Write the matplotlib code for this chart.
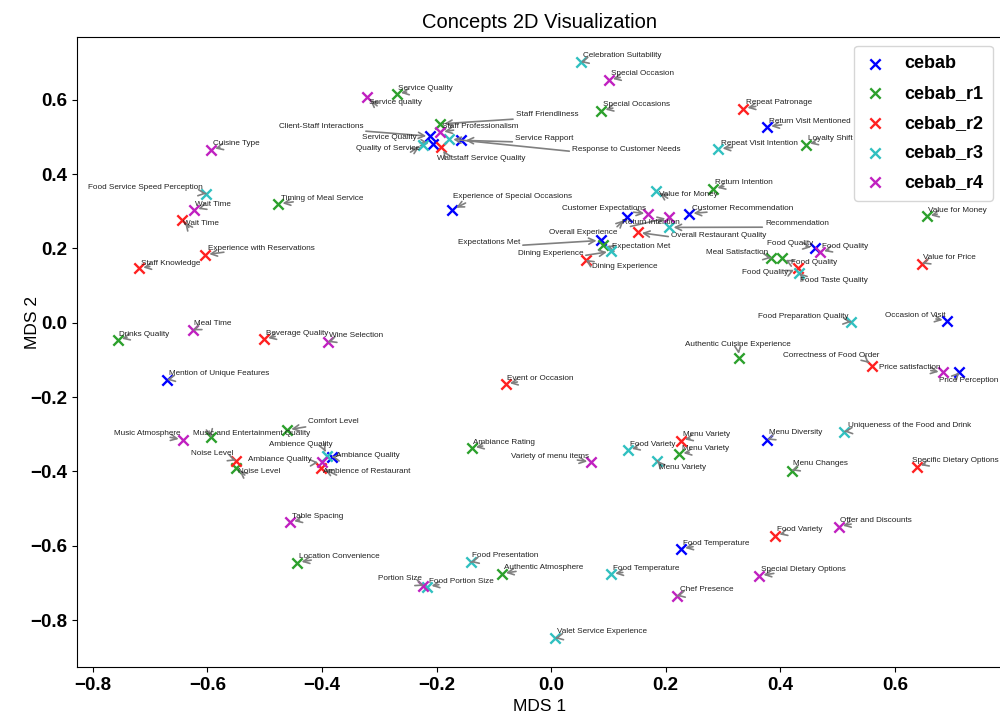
import matplotlib
matplotlib.use("Agg")
import matplotlib.pyplot as plt

# concepts per run: name and MDS coords
cebab_names = ["Client-Staff Interactions", "Service Quality", "Service Rapport",
               "Experience of Special Occasions", "Overall Experience", "Customer Recommendation",
               "Expectations Met", "Return Visit Mentioned", "Food Quality", "Occasion of Visit",
               "Price Perception", "Mention of Unique Features", "Ambiance Quality",
               "Menu Diversity", "Food Temperature"]
cebab_x = [-0.2106, -0.2065, -0.1565, -0.1722, 0.1321, 0.2414, 0.0867, 0.377, 0.4607,
           0.6906, 0.7126, -0.6702, -0.3827, 0.3775, 0.2269]
cebab_y = [0.5015, 0.481, 0.4907, 0.3042, 0.2834, 0.2934, 0.2215, 0.5268, 0.2011,
           0.0054, -0.1338, -0.1534, -0.3599, -0.3149, -0.6083]

r1_names = ["Service Quality", "Staff Friendliness", "Special Occasions", "Timing of Meal Service",
            "Expectation Met", "Return Intention", "Loyalty Shift", "Value for Money",
            "Meal Satisfaction", "Food Quality", "Authentic Cuisine Experience", "Menu Variety",
            "Menu Changes", "Drinks Quality", "Music and Entertainment Quality", "Comfort Level",
            "Noise Level", "Ambiance Rating", "Location Convenience", "Authentic Atmosphere"]
r1_x = [-0.2693, -0.1937, 0.0878, -0.4759, 0.0913, 0.2832, 0.445, 0.6557, 0.3839, 0.4026,
        0.3286, 0.2239, 0.4201, -0.7562, -0.5934, -0.4607, -0.5497, -0.1384, -0.4428, -0.086]
r1_y = [0.6164, 0.5349, 0.5707, 0.3195, 0.21, 0.3599, 0.4791, 0.2861, 0.1742, 0.1742,
        -0.095, -0.3526, -0.3976, -0.0458, -0.3077, -0.288, -0.3911, -0.3373, -0.6452, -0.6748]

r2_names = ["Waitstaff Service Quality", "Repeat Patronage", "Wait Time",
            "Experience with Reservations", "Staff Knowledge", "Overall Restaurant Quality",
            "Dining Experience", "Food Quality", "Value for Price", "Beverage Quality",
            "Event or Occasion", "Correctness of Food Order", "Menu Variety",
            "Specific Dietary Options", "Noise Level", "Ambience of Restaurant", "Food Variety"]
r2_x = [-0.1914, 0.3356, -0.6435, -0.6038, -0.719, 0.1513, 0.0606, 0.4305, 0.648, -0.5009,
        -0.0791, 0.5607, 0.2264, 0.6382, -0.5503, -0.4019, 0.3914]
r2_y = [0.473, 0.576, 0.2773, 0.183, 0.1467, 0.2431, 0.1696, 0.1472, 0.1588, -0.0439,
        -0.165, -0.1157, -0.3168, -0.3868, -0.3707, -0.3895, -0.5725]

r3_names = ["Quality of Service", "Response to Customer Needs", "Celebration Suitability",
            "Repeat Visit Intention", "Food Service Speed Perception", "Value for Money",
            "Recommendation", "Dining Experience", "Food Taste Quality", "Food Preparation Quality",
            "Uniqueness of the Food and Drink", "Food Variety", "Menu Variety", "Ambience Quality",
            "Food Presentation", "Food Portion Size", "Food Temperature", "Valet Service Experience"]
r3_x = [-0.2239, -0.178, 0.0518, 0.292, -0.6021, 0.1832, 0.2065, 0.1047, 0.4333, 0.5236,
        0.5119, 0.1339, 0.1855, -0.3909, -0.1401, -0.2159, 0.1047, 0.007]
r3_y = [0.4791, 0.4945, 0.7007, 0.4676, 0.3472, 0.3553, 0.2565, 0.1919, 0.1338, 0.0019,
        -0.2926, -0.3419, -0.3715, -0.3572, -0.6441, -0.7098, -0.6764, -0.8487]

r4_names = ["Service quality", "Staff Professionalism", "Special Occasion", "Cuisine Type",
            "Wait Time", "Customer Expectations", "Return Intention", "Food Quality",
            "Price satisfaction", "Meal Time", "Wine Selection", "Music Atmosphere",
            "Ambiance Quality", "Variety of menu items", "Table Spacing", "Portion Size",
            "Offer and Discounts", "Special Dietary Options", "Chef Presence"]
r4_x = [-0.3216, -0.1937, 0.1007, -0.5934, -0.6225, 0.1698, 0.2065, 0.4695, 0.6836, -0.6243,
        -0.3887, -0.6428, -0.3991, 0.0703, -0.4555, -0.2229, 0.5021, 0.3635, 0.2194]
r4_y = [0.6065, 0.5122, 0.6533, 0.4657, 0.3023, 0.2926, 0.2834, 0.1892, -0.1338, -0.0207,
        -0.052, -0.3149, -0.375, -0.375, -0.5365, -0.7079, -0.5483, -0.6802, -0.7349]

# where the repel step left each label: (x, y, side) -- side "l" means the text
# starts at x, "r" means it ends at x, "c" centred on x
cebab_lab = [(-0.3281, 0.528, "r"), (-0.2344, 0.497, "r"), (-0.0628, 0.4953, "l"),
             (-0.171, 0.339, "l"), (0.1152, 0.2415, "r"), (0.2455, 0.3069, "l"),
             (-0.0541, 0.2161, "r"), (0.381, 0.5419, "l"), (0.4572, 0.2145, "r"),
             (0.6876, 0.0196, "r"), (0.6777, -0.1553, "l"), (-0.6661, -0.1354, "l"),
             (-0.3757, -0.3572, "l"), (0.3805, -0.2953, "l"), (0.2304, -0.593, "l")]
r1_lab = [(-0.2665, 0.6299, "l"), (-0.0616, 0.5591, "l"), (0.0902, 0.5868, "l"),
          (-0.4717, 0.3346, "l"), (0.107, 0.2038, "l"), (0.2862, 0.376, "l"),
          (0.449, 0.4945, "l"), (0.6585, 0.3015, "l"), (0.3787, 0.1892, "r"),
          (0.4183, 0.1623, "l"), (0.3264, -0.0592, "c"), (0.2286, -0.3392, "l"),
          (0.4223, -0.3795, "l"), (-0.7534, -0.0304, "l"), (-0.6243, -0.2969, "l"),
          (-0.4236, -0.2665, "l"), (-0.5457, -0.4003, "l"), (-0.1356, -0.3222, "l"),
          (-0.4398, -0.6291, "l"), (-0.082, -0.6595, "l")]
r2_lab = [(-0.1995, 0.4406, "l"), (0.3398, 0.5914, "l"), (-0.6417, 0.2657, "l"),
          (-0.5991, 0.1992, "l"), (-0.716, 0.1607, "l"), (0.2094, 0.235, "l"),
          (0.071, 0.15, "l"), (0.4136, 0.1354, "r"), (0.6497, 0.1768, "l"),
          (-0.4979, -0.0277, "l"), (-0.0763, -0.1499, "l"), (0.5724, -0.0888, "r"),
          (0.2298, -0.3015, "l"), (0.6300, -0.3707, "l"), (-0.555, -0.3526, "r"),
          (-0.3974, -0.4003, "l"), (0.3939, -0.5572, "l")]
r3_lab = [(-0.2286, 0.4684, "r"), (0.0366, 0.4657, "l"), (0.0553, 0.7195, "l"),
          (0.2962, 0.481, "l"), (-0.6073, 0.3634, "r"), (0.188, 0.3445, "l"),
          (0.3735, 0.2665, "l"), (0.0558, 0.1857, "r"), (0.4346, 0.1139, "l"),
          (0.5183, 0.017, "r"), (0.5178, -0.2764, "l"), (0.1379, -0.3265, "l"),
          (0.188, -0.3884, "l"), (-0.3805, -0.3265, "r"), (-0.1373, -0.6272, "l"),
          (-0.2129, -0.6953, "l"), (0.1077, -0.6622, "l"), (0.011, -0.831, "l")]
r4_lab = [(-0.3176, 0.593, "l"), (-0.1902, 0.5276, "l"), (0.1042, 0.6694, "l"),
          (-0.5904, 0.481, "l"), (-0.6208, 0.3176, "l"), (0.1658, 0.3069, "r"),
          (0.1234, 0.2684, "l"), (0.4724, 0.2054, "l"), (0.6789, -0.1192, "r"),
          (-0.623, -0.0027, "l"), (-0.3869, -0.0342, "l"), (-0.6475, -0.2988, "r"),
          (-0.4171, -0.3688, "r"), (0.0663, -0.3599, "r"), (-0.4525, -0.5214, "l"),
          (-0.2257, -0.6891, "r"), (0.5049, -0.5322, "l"), (0.3665, -0.6649, "l"),
          (0.2251, -0.7187, "l")]

runs = ["cebab", "cebab_r1", "cebab_r2", "cebab_r3", "cebab_r4"]
colors = ["#0000ff", "#2ca02c", "#ff2020", "#30c0c0", "#c020c0"]

plt.rcParams["font.family"] = ["Liberation Sans", "DejaVu Sans"]
ALIGN = {"l": "left", "r": "right", "c": "center"}
# arrow leaves the text from the lower corner that faces the point
RELPOS = {"l": (0.15, 0.0), "r": (0.85, 0.0), "c": (0.5, 0.0)}

fig = plt.figure(figsize=(10, 7.23), dpi=100)
ax = fig.add_axes([0.0767, 0.0775, 0.9253, 0.872])

series = [(cebab_names, cebab_x, cebab_y, cebab_lab),
          (r1_names, r1_x, r1_y, r1_lab),
          (r2_names, r2_x, r2_y, r2_lab),
          (r3_names, r3_x, r3_y, r3_lab),
          (r4_names, r4_x, r4_y, r4_lab)]

for run, col, (names, xs, ys, labs) in zip(runs, colors, series):
    ax.scatter(xs, ys, marker="x", color=col, s=55, linewidths=1.7, label=run, zorder=3)
    for name, x, y, (lx, ly, side) in zip(names, xs, ys, labs):
        ax.annotate(name, xy=(x, y), xytext=(lx, ly), fontsize=5.9, color="#222222",
                    ha=ALIGN[side], va="center",
                    arrowprops=dict(arrowstyle="->", color="gray", lw=1.2,
                                    relpos=RELPOS[side], shrinkA=0, shrinkB=3,
                                    mutation_scale=11))

ax.set_xlim(-0.828, 0.787)
ax.set_ylim(-0.926, 0.770)
ax.set_xticks([-0.8, -0.6, -0.4, -0.2, 0.0, 0.2, 0.4, 0.6])
ax.set_yticks([-0.8, -0.6, -0.4, -0.2, 0.0, 0.2, 0.4, 0.6])
for lbl in ax.get_xticklabels() + ax.get_yticklabels():
    lbl.set_fontweight("bold")
    lbl.set_fontsize(13.5)
ax.set_xlabel("MDS 1", fontsize=12.5)
ax.set_ylabel("MDS 2", fontsize=12.5)
ax.yaxis.set_label_coords(-0.04, 0.546)
ax.set_title("Concepts 2D Visualization", fontsize=14.5)

leg = ax.legend(loc="upper right", prop=dict(weight="bold", size=13), labelspacing=0.7,
                handletextpad=1.0, borderpad=0.55, handlelength=1.2)

fig.savefig("out.png", dpi=100)
